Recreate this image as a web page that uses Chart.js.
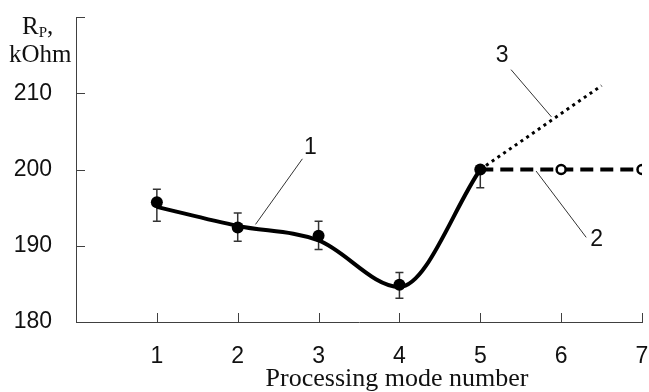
<!DOCTYPE html>
<html>
<head>
<meta charset="utf-8">
<script src="https://cdn.jsdelivr.net/npm/chart.js@4"></script>
<style>
  html, body { margin: 0; padding: 0; background: #fff; }
</style>
</head>
<body>
<canvas id="js-chart" width="649" height="392"></canvas>
<script>
// measured points with error bars (curve 1)
const modes = [1, 2, 3, 4, 5];
const measured = [195.7, 192.4, 191.3, 184.9, 200.0];
const errLow = [193.2, 190.6, 189.5, 183.1, 197.6];
const errHigh = [197.4, 194.3, 193.2, 186.5, 200.0];
const fitCurve = [195.1, 192.6, 190.7, 184.6, 200.0];

// curve 2 - dashed, curve 3 - dotted
const stableModes = [5, 6, 7];
const stableValues = [200, 200, 200];
const growthModes = [5, 6.5];
const growthValues = [200, 211];

// tick labels
const xTicks = [1, 2, 3, 4, 5, 6, 7];
const yTicks = [180, 190, 200, 210, 220];

// curve numbers and their leader lines
const curveLabels = ['1', '2', '3'];
const labelX = [2.90, 6.44, 5.27];
const labelY = [202.8, 190.8, 214.9];
const leaderX1 = [2.80, 6.31, 5.38];
const leaderY1 = [201.4, 191.1, 213.1];
const leaderX2 = [2.22, 5.69, 5.88];
const leaderY2 = [192.8, 199.8, 206.9];

const toPoints = (xs, ys) => xs.map((x, i) => ({ x: x, y: ys[i] }));

const leaders = curveLabels.map((name, i) => ({
  label: 'leader ' + name,
  data: [{ x: leaderX1[i], y: leaderY1[i] }, { x: leaderX2[i], y: leaderY2[i] }],
  showLine: true,
  borderColor: '#333',
  borderWidth: 1,
  pointRadius: 0,
}));

// error bars, inner ticks and texts
const extras = {
  id: 'extras',
  beforeDatasetsDraw(chart) {
    const { ctx } = chart;
    const xs = chart.scales.x, ys = chart.scales.y;
    ctx.save();
    ctx.strokeStyle = '#333';
    ctx.lineWidth = 1.5;
    modes.forEach((m, i) => {
      const px = xs.getPixelForValue(m);
      const y1 = ys.getPixelForValue(errLow[i]);
      const y2 = ys.getPixelForValue(errHigh[i]);
      ctx.beginPath();
      ctx.moveTo(px, y1); ctx.lineTo(px, y2);
      ctx.moveTo(px - 4, y1); ctx.lineTo(px + 4, y1);
      ctx.moveTo(px - 4, y2); ctx.lineTo(px + 4, y2);
      ctx.stroke();
    });
    ctx.restore();
  },
  afterDraw(chart) {
    const { ctx, chartArea } = chart;
    const xs = chart.scales.x, ys = chart.scales.y;
    ctx.save();
    // inward ticks
    ctx.strokeStyle = '#404040';
    ctx.lineWidth = 1;
    ctx.beginPath();
    yTicks.forEach(v => {
      const py = Math.round(ys.getPixelForValue(v)) + 0.5;
      ctx.moveTo(chartArea.left, py); ctx.lineTo(chartArea.left + 9, py);
    });
    xTicks.forEach(v => {
      const px = Math.round(xs.getPixelForValue(v)) + 0.5;
      ctx.moveTo(px, chartArea.bottom); ctx.lineTo(px, chartArea.bottom - 9);
    });
    ctx.stroke();

    // curve numbers
    ctx.fillStyle = '#111';
    ctx.font = '23px "Liberation Sans"';
    ctx.textAlign = 'center';
    ctx.textBaseline = 'middle';
    curveLabels.forEach((t, i) => {
      ctx.fillText(t, xs.getPixelForValue(labelX[i]), ys.getPixelForValue(labelY[i]));
    });

    // axis titles
    ctx.textBaseline = 'alphabetic';
    ctx.font = '26px "Liberation Serif"';
    ctx.fillText('Processing mode number', xs.getPixelForValue(3.97), chartArea.bottom + 64);

    ctx.textAlign = 'left';
    const top = ys.getPixelForValue(220);
    let x = chartArea.left - 54;
    ctx.font = '25px "Liberation Serif"';
    ctx.fillText('R', x, top + 17);
    x += ctx.measureText('R').width;
    ctx.font = '15px "Liberation Serif"';
    ctx.fillText('P', x, top + 20);
    x += ctx.measureText('P').width;
    ctx.font = '25px "Liberation Serif"';
    ctx.fillText(',', x, top + 17);
    ctx.fillText('kOhm', chartArea.left - 67, top + 45);
    ctx.restore();
  },
};

const ctx = document.querySelector('#js-chart').getContext('2d');

new Chart(ctx, {
  type: 'scatter',
  data: {
    datasets: [
      {
        label: 'measured',
        data: toPoints(modes, measured),
        showLine: false,
        pointRadius: 6,
        pointBackgroundColor: '#000',
        pointBorderColor: '#000',
        pointBorderWidth: 0,
      },
      {
        label: '1',
        data: toPoints(modes, fitCurve),
        showLine: true,
        cubicInterpolationMode: 'monotone',
        borderColor: '#000',
        borderWidth: 4,
        pointRadius: 0,
      },
      {
        label: '2',
        data: toPoints(stableModes, stableValues),
        showLine: true,
        borderColor: '#000',
        borderWidth: 4,
        borderDash: [13, 7],
        pointRadius: [0, 4.5, 4.5],
        pointBackgroundColor: '#fff',
        pointBorderColor: '#000',
        pointBorderWidth: 2.5,
      },
      {
        label: '3',
        data: toPoints(growthModes, growthValues),
        showLine: true,
        borderColor: '#000',
        borderWidth: 3,
        borderDash: [3, 4],
        pointRadius: 0,
      },
      ...leaders,
    ],
  },
  options: {
    responsive: false,
    animation: false,
    layout: { padding: { top: 17, right: 6, left: 0, bottom: 0 } },
    plugins: {
      legend: { display: false },
      tooltip: { enabled: false },
    },
    scales: {
      x: {
        type: 'linear',
        min: 0,
        max: 7,
        afterBuildTicks: s => { s.ticks = xTicks.map(v => ({ value: v })); },
        afterFit: s => { s.height = 70; s.paddingLeft = 0; s.paddingRight = 0; },
        grid: { display: false, drawTicks: false },
        border: { display: true, color: '#404040', width: 1 },
        ticks: {
          padding: 21,
          color: '#111',
          maxRotation: 0,
          font: { family: 'Liberation Sans', size: 23 },
        },
      },
      y: {
        min: 180,
        max: 220,
        afterBuildTicks: s => { s.ticks = yTicks.map(v => ({ value: v })); },
        afterFit: s => { s.width = 76; s.paddingTop = 0; s.paddingBottom = 0; },
        grid: { display: false, drawTicks: false },
        border: { display: true, color: '#404040', width: 1 },
        ticks: {
          padding: 24,
          color: '#111',
          font: { family: 'Liberation Sans', size: 23 },
          callback: v => (v === 220 ? '' : v),
        },
      },
    },
  },
  plugins: [extras],
});
</script>
</body>
</html>
